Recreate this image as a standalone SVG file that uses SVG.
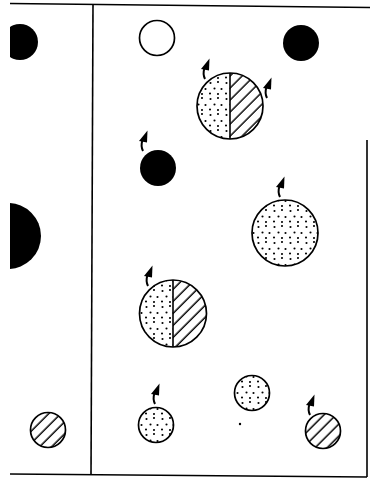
<svg xmlns="http://www.w3.org/2000/svg" width="370" height="479" viewBox="0 0 370 479">
<style>
.frame{stroke:#000;stroke-width:1.6;fill:none}
.c{stroke:#000;stroke-width:1.7}
.solid{fill:#000}
.open{fill:#fff}
.dots{fill:url(#dotpat)}
.hatch{fill:url(#hatchpat)}
.sep{stroke:#000;stroke-width:1.6}
</style>
<defs>
<pattern id="dotpat" width="16" height="16" patternUnits="userSpaceOnUse">
<rect width="16" height="16" fill="#fff"/>
<circle cx="2.5" cy="3" r="1.05" fill="#000"/>
<circle cx="10" cy="2" r="1.05" fill="#000"/>
<circle cx="6.5" cy="8.5" r="1.05" fill="#000"/>
<circle cx="13.5" cy="9" r="1.05" fill="#000"/>
<circle cx="2" cy="13.5" r="1.05" fill="#000"/>
<circle cx="10" cy="14" r="1.05" fill="#000"/>
</pattern>
<pattern id="hatchpat" width="8.5" height="8.5" patternUnits="userSpaceOnUse" patternTransform="rotate(-45)">
<rect width="8.5" height="8.5" fill="#fff"/>
<line x1="0" y1="4" x2="8.5" y2="4" stroke="#000" stroke-width="1.5"/>
</pattern>
<clipPath id="leftclip"><rect x="10" y="0" width="90" height="479"/></clipPath>
<g id="arrowsym">
<path d="M3,20 Q0.5,15 2.5,9" fill="none" stroke="#000" stroke-width="2"/>
<polygon points="-1,10 7.5,-0.5 7,11.5" fill="#000"/>
</g>
</defs>
<g id="frame">
<line class="frame" x1="10" y1="3.5" x2="370" y2="7.5"/>
<line class="frame" x1="93" y1="4" x2="91" y2="475"/>
<line class="frame" x1="10" y1="474" x2="367" y2="477"/>
<line class="frame" x1="367" y1="140" x2="367" y2="477"/>
</g>
<g id="left-black-circle" clip-path="url(#leftclip)"><circle class="solid" cx="20" cy="42" r="18"/></g>
<g id="left-half-circle" clip-path="url(#leftclip)"><circle class="solid" cx="8" cy="236" r="33"/></g>
<g id="left-hatched"><circle class="c hatch" cx="48" cy="430" r="17.5"/></g>
<g id="open-circle"><circle class="c open" cx="157" cy="38" r="17.5"/></g>
<g id="black-top-right"><circle class="solid" cx="301" cy="43" r="18"/></g>
<g id="split-top">
<path class="dots" d="M230,73 A33,33 0 0 0 230,139 Z"/>
<path class="hatch" d="M230,73 A33,33 0 0 1 230,139 Z"/>
<circle class="c" cx="230" cy="106" r="33" fill="none"/>
<line class="sep" x1="230" y1="73" x2="230" y2="139"/>
</g>
<g id="black-middle"><circle class="solid" cx="158" cy="168" r="18"/></g>
<g id="dotted-right"><circle class="c dots" cx="285" cy="233" r="33"/></g>
<g id="split-lower">
<path class="dots" d="M173,280 A33.5,33.5 0 0 0 173,347 Z"/>
<path class="hatch" d="M173,280 A33.5,33.5 0 0 1 173,347 Z"/>
<circle class="c" cx="173" cy="313.5" r="33.5" fill="none"/>
<line class="sep" x1="173" y1="280" x2="173" y2="347"/>
</g>
<g id="dotted-small-left"><circle class="c dots" cx="156" cy="425" r="17.5"/></g>
<g id="dotted-small-mid"><circle class="c dots" cx="252" cy="393" r="17.5"/></g>
<g id="hatched-small-right"><circle class="c hatch" cx="323" cy="431" r="17.5"/></g>
<g id="speck"><circle cx="240" cy="424" r="1.2" fill="#000"/></g>
<g id="connectors">
<use href="#arrowsym" x="202" y="59"/>
<use href="#arrowsym" x="264" y="78"/>
<use href="#arrowsym" x="140" y="131"/>
<use href="#arrowsym" x="277" y="177"/>
<use href="#arrowsym" x="145" y="266"/>
<use href="#arrowsym" x="152" y="384"/>
<use href="#arrowsym" x="307" y="395"/>
</g>
</svg>
